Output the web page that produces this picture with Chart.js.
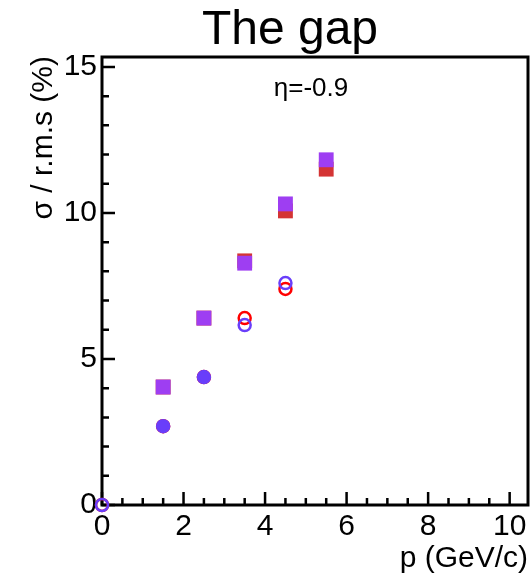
<!DOCTYPE html>
<html>
<head>
<meta charset="utf-8">
<script src="https://cdn.jsdelivr.net/npm/chart.js@4/dist/chart.umd.min.js"></script>
<style>
  html, body { margin: 0; padding: 0; background: #fff; overflow: hidden; }
  #wrap { width: 530px; height: 577px; }
</style>
</head>
<body>
<div id="wrap"><canvas id="chart1"></canvas></div>
<script>
// values
const squareX = [1.5, 2.5, 3.5, 4.5, 5.5];
const purpleSquares = [4.04, 6.40, 8.28, 10.31, 11.82];
const redSquares = [4.04, 6.40, 8.36, 10.07, 11.50];
const circleX = [0, 1.5, 2.5, 3.5, 4.5];
const blueCircles = [0, 2.70, 4.38, 6.16, 7.60];
const redCircles = [0, 2.70, 4.38, 6.40, 7.40];
const xTicks = [0, 2, 4, 6, 8, 10];
const yTicks = [0, 5, 10, 15];
const xMinor = [0.5, 1, 1.5, 2.5, 3, 3.5, 4.5, 5, 5.5, 6.5, 7, 7.5, 8.5, 9, 9.5];
const yMinor = [1, 2, 3, 4, 6, 7, 8, 9, 11, 12, 13, 14];

const FONT = '"Liberation Sans", Arial, Helvetica, sans-serif';

function pts(xs, ys) {
  return xs.map((x, i) => ({ x: x, y: ys[i] }));
}

// frame, tick marks and text, ROOT style
const rootFrame = {
  id: 'rootFrame',
  beforeDatasetsDraw(chart) {
    const ctx = chart.ctx;
    const a = chart.chartArea;
    const xs = chart.scales.x, ys = chart.scales.y;
    ctx.save();
    ctx.strokeStyle = '#000';
    ctx.lineWidth = 3;
    ctx.strokeRect(a.left, a.top, a.right - a.left, a.bottom - a.top);
    ctx.lineWidth = 2.5;
    ctx.beginPath();
    xTicks.forEach(v => {
      const p = xs.getPixelForValue(v);
      ctx.moveTo(p, a.bottom); ctx.lineTo(p, a.bottom - 13);
    });
    xMinor.forEach(v => {
      const p = xs.getPixelForValue(v);
      ctx.moveTo(p, a.bottom); ctx.lineTo(p, a.bottom - 7);
    });
    yTicks.forEach(v => {
      const p = ys.getPixelForValue(v);
      ctx.moveTo(a.left, p); ctx.lineTo(a.left + 13, p);
    });
    yMinor.forEach(v => {
      const p = ys.getPixelForValue(v);
      ctx.moveTo(a.left, p); ctx.lineTo(a.left + 7, p);
    });
    ctx.stroke();

    ctx.fillStyle = '#000';
    ctx.font = '48px ' + FONT;
    ctx.textAlign = 'center';
    ctx.textBaseline = 'alphabetic';
    ctx.fillText('The gap', 290, 44);

    ctx.font = '26px ' + FONT;
    ctx.fillText('\u03b7=-0.9', 311, 96);

    ctx.font = '30px ' + FONT;
    ctx.textAlign = 'right';
    ctx.fillText('p (GeV/c)', 528, 567);

    ctx.translate(52, 56);
    ctx.rotate(-Math.PI / 2);
    ctx.textAlign = 'right';
    ctx.fillText('\u03c3 / r.m.s (%)', 0, 0);
    ctx.restore();
  }
};

const ctx1 = document.getElementById('chart1').getContext('2d');
const chart1 = new Chart(ctx1, {
  type: 'scatter',
  data: {
    // first dataset is drawn on top
    datasets: [
      {
        label: 'blue circles',
        data: pts(circleX, blueCircles),
        pointStyle: 'circle',
        pointRadius: 6,
        backgroundColor: ['rgba(255,255,255,0)', 'rgb(105, 62, 250)', 'rgb(105, 62, 250)', 'rgba(255,255,255,0)', 'rgba(255,255,255,0)'],
        borderColor: 'rgb(105, 62, 250)',
        borderWidth: 2.5
      },
      {
        label: 'red circles',
        data: pts(circleX, redCircles),
        pointStyle: 'circle',
        pointRadius: 6,
        backgroundColor: 'rgba(255, 255, 255, 0)',
        borderColor: 'rgb(255, 0, 0)',
        borderWidth: 2.5
      },
      {
        label: 'purple squares',
        data: pts(squareX, purpleSquares),
        pointStyle: 'rect',
        pointRadius: 10.5,
        backgroundColor: 'rgb(158, 62, 242)',
        borderColor: 'rgb(158, 62, 242)',
        borderWidth: 0
      },
      {
        label: 'red squares',
        data: pts(squareX, redSquares),
        pointStyle: 'rect',
        pointRadius: 10.5,
        backgroundColor: 'rgb(212, 52, 52)',
        borderColor: 'rgb(212, 52, 52)',
        borderWidth: 0
      }
    ]
  },
  options: {
    responsive: true,
    maintainAspectRatio: false,
    animation: false,
    layout: { autoPadding: false, padding: { left: 0, top: 57, right: 2, bottom: 0 } },
    datasets: { scatter: { clip: false } },
    plugins: {
      legend: { display: false },
      tooltip: { enabled: false }
    },
    scales: {
      x: {
        type: 'linear',
        min: 0,
        max: 10.45,
        border: { display: false },
        grid: { display: false, drawTicks: false },
        afterBuildTicks: scale => { scale.ticks = xTicks.map(v => ({ value: v })); },
        afterFit: scale => { scale.height = 72; scale.paddingLeft = 0; scale.paddingRight = 0; },
        ticks: {
          padding: 4,
          color: '#000',
          maxRotation: 0,
          font: { family: FONT, size: 30 }
        }
      },
      y: {
        type: 'linear',
        min: 0,
        max: 15.34,
        border: { display: false },
        grid: { display: false, drawTicks: false },
        afterBuildTicks: scale => { scale.ticks = yTicks.map(v => ({ value: v })); },
        afterFit: scale => { scale.width = 102; scale.paddingTop = 0; scale.paddingBottom = 0; },
        ticks: {
          padding: 5,
          color: '#000',
          font: { family: FONT, size: 30 }
        }
      }
    }
  },
  plugins: [rootFrame]
});
</script>
</body>
</html>
